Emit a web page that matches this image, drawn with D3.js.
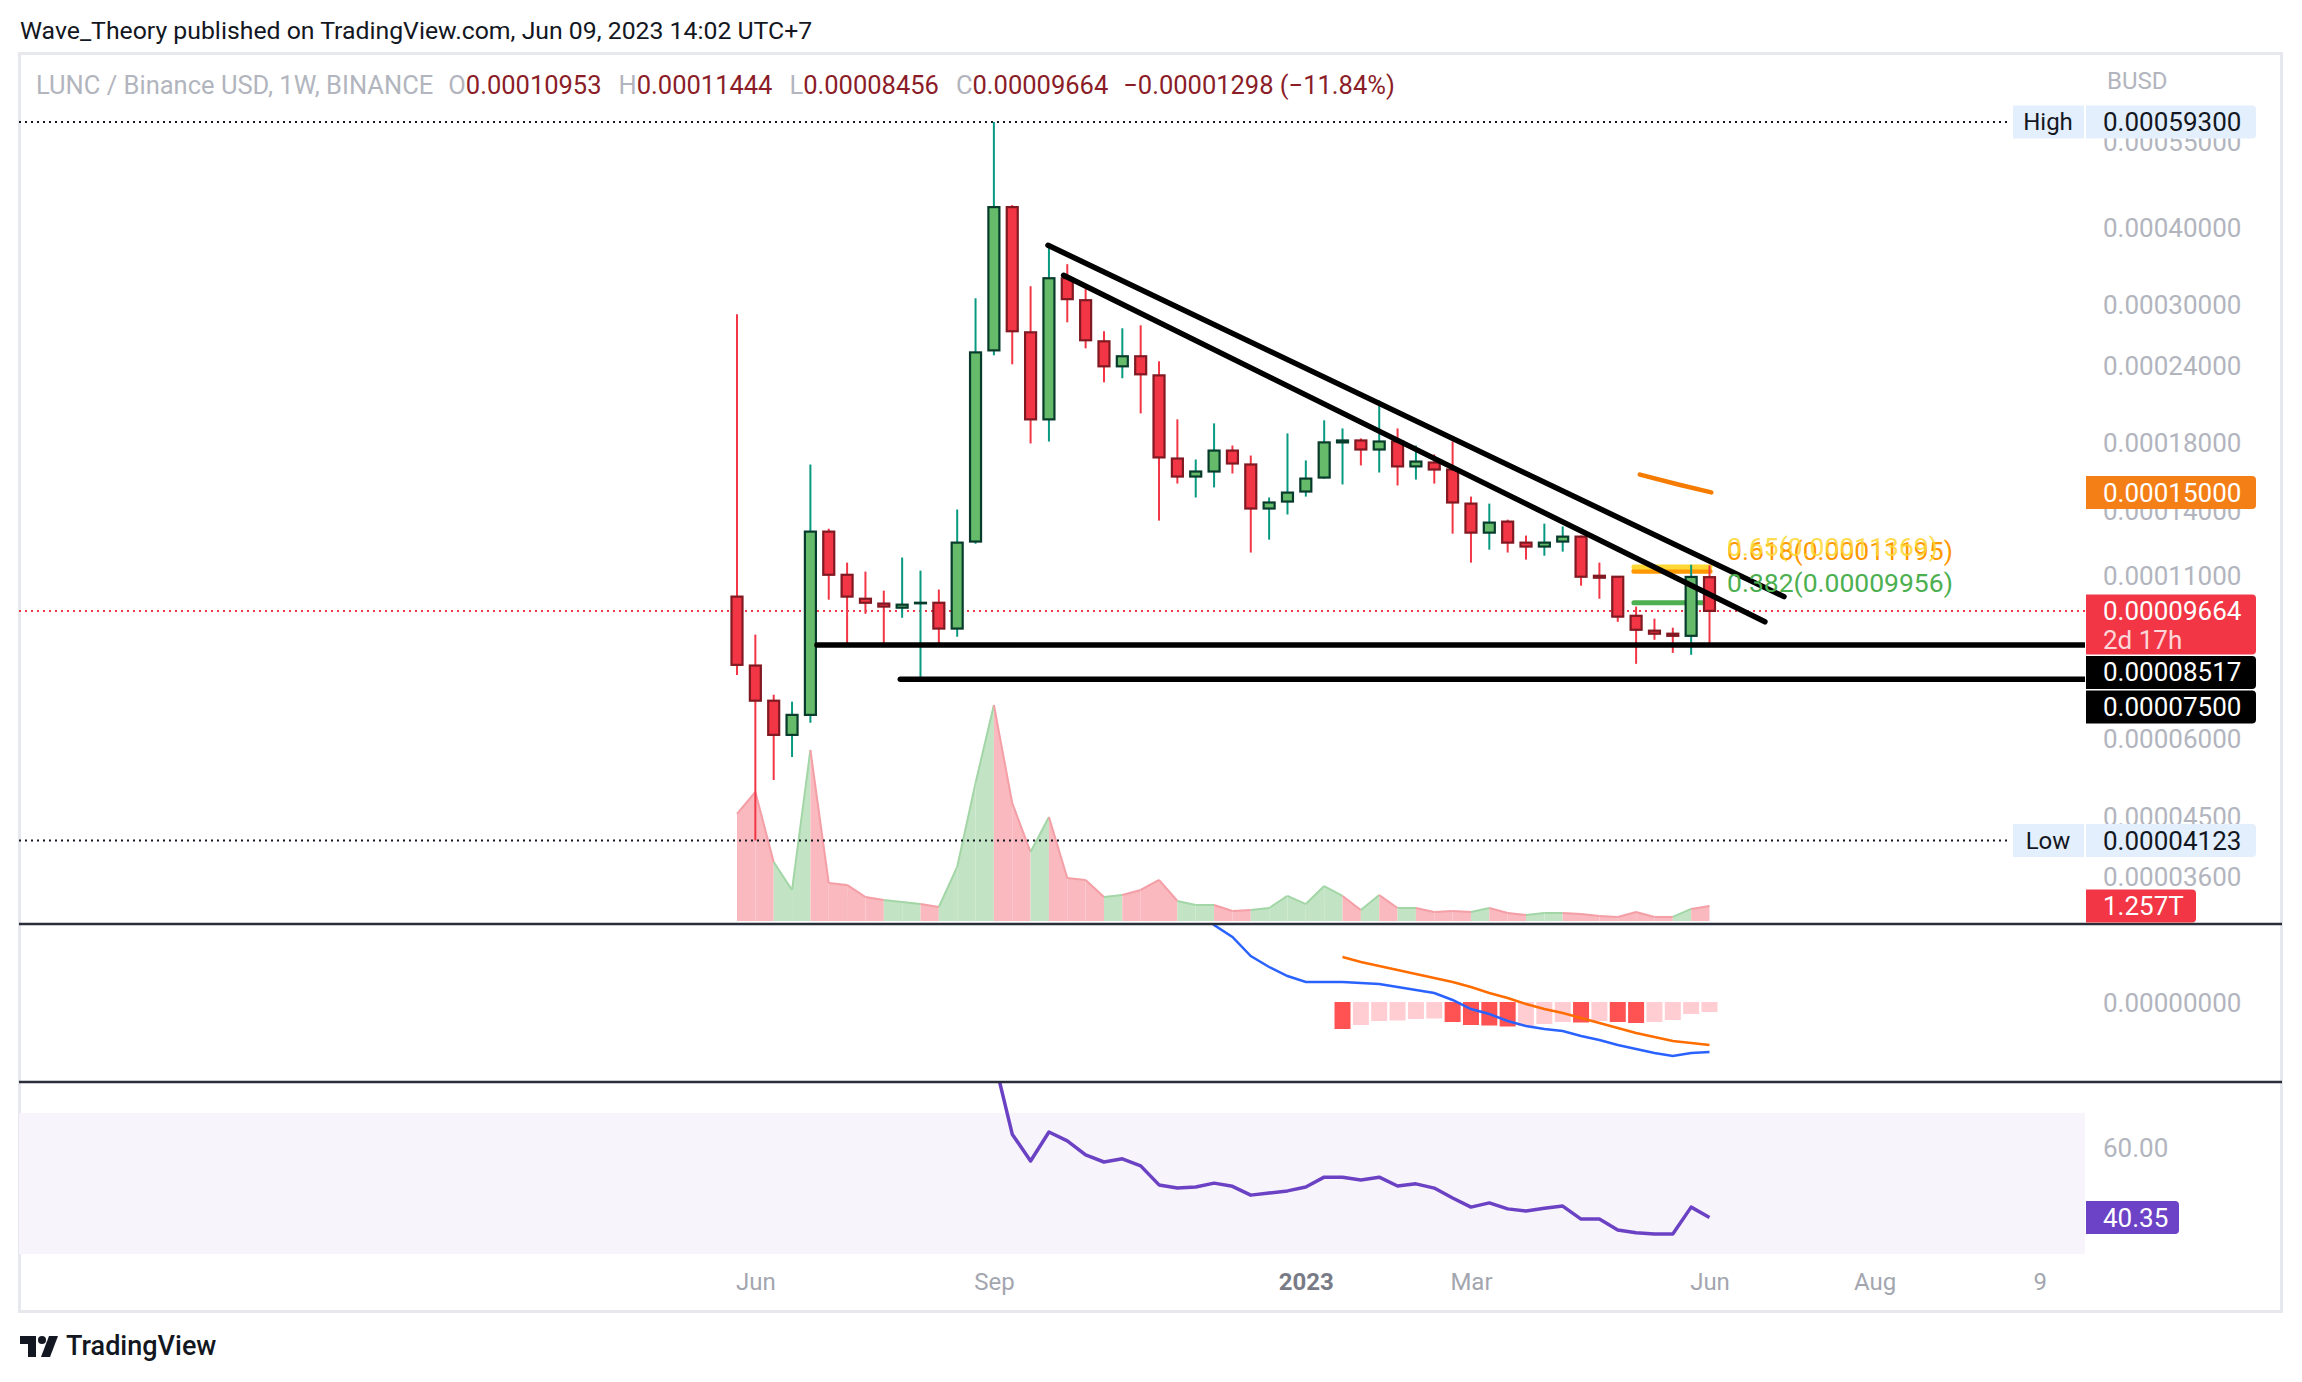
<!DOCTYPE html>
<html><head><meta charset="utf-8">
<script src="https://cdn.jsdelivr.net/npm/d3@7"></script>
<style>
html,body{margin:0;padding:0;background:#fff;}
svg{display:block;font-family:Roboto,"Noto Sans",sans-serif;}
</style></head>
<body><svg id="chart" width="2302" height="1382"></svg>
<script>
// prices below are in units of 0.0001 BUSD
const P=1e-4;
const open =[1.019,0.789,0.6925,0.610,0.657,1.297,1.105,1.011,0.993,0.978,0.994,0.996,0.905,1.250,2.541,4.324,2.717,1.967,3.321,3.061,2.628,2.395,2.486,2.316,1.701,1.591,1.621,1.752,1.664,1.413,1.450,1.505,1.585,1.806,1.819,1.759,1.812,1.652,1.676,1.633,1.439,1.292,1.346,1.245,1.227,1.250,1.273,1.101,1.097,0.949,0.898,0.888,0.881,1.0953];
const high =[2.905,0.885,0.708,0.690,1.664,1.311,1.156,1.118,1.042,1.178,1.122,1.046,1.408,3.083,5.930,4.356,3.224,3.741,3.499,3.201,2.728,2.758,2.789,2.440,1.967,1.695,1.938,1.785,1.720,1.472,1.867,1.689,1.960,1.902,1.833,2.110,1.902,1.785,1.727,1.812,1.477,1.439,1.356,1.278,1.336,1.322,1.278,1.156,1.100,0.982,0.939,0.908,1.147,1.1444];
const low  =[0.762,0.4123,0.516,0.562,0.638,1.0075,0.852,0.956,0.856,0.942,0.750,0.852,0.878,1.240,2.495,2.413,1.799,1.812,2.820,2.560,2.257,2.291,2.011,1.351,1.550,1.472,1.528,1.609,1.200,1.259,1.382,1.477,1.579,1.545,1.658,1.615,1.539,1.573,1.550,1.287,1.156,1.213,1.200,1.169,1.186,1.204,1.061,1.011,0.928,0.794,0.868,0.827,0.821,0.8456];
const close=[0.791,0.6925,0.610,0.657,1.297,1.105,1.019,0.996,0.982,0.989,0.996,0.905,1.245,2.522,4.324,2.728,1.967,3.321,3.073,2.638,2.395,2.486,2.325,1.708,1.591,1.621,1.752,1.670,1.413,1.445,1.499,1.579,1.806,1.819,1.759,1.812,1.652,1.682,1.633,1.445,1.292,1.341,1.245,1.227,1.245,1.273,1.097,1.093,0.946,0.901,0.888,0.881,1.0962,0.9664];
// weekly volume, trillions
const volume=[8.97,10.81,4.94,2.60,14.33,3.18,3.02,2.01,1.76,1.59,1.42,1.17,4.53,11.56,18.10,9.89,5.78,8.72,3.60,3.44,2.01,2.18,2.60,3.44,1.68,1.34,1.34,0.84,0.92,1.09,2.10,1.42,2.93,2.10,0.92,2.18,1.09,1.09,0.75,0.84,0.75,1.09,0.67,0.50,0.67,0.67,0.59,0.42,0.34,0.75,0.34,0.34,1.01,1.257];
// MACD, units of 1e-6
const macdStart=25;
const macdLine=[9.8,7.7,6.5,4.6,3.5,2.6,2.0,2.0,2.0,1.9,1.8,1.5,1.2,0.9,0.2,-0.7,-1.2,-1.9,-2.4,-2.7,-2.9,-3.4,-3.8,-4.3,-4.7,-5.1,-5.4,-5.1,-5.0];
const signalStart=33;
const signalLine=[4.5,4.0,3.6,3.2,2.8,2.4,2.0,1.5,0.9,0.4,-0.2,-0.7,-1.1,-1.6,-2.1,-2.6,-3.1,-3.5,-3.9,-4.1,-4.3];
const histogram=[-2.7,-2.3,-1.9,-1.85,-1.7,-1.65,-2.0,-2.3,-2.35,-2.45,-2.4,-2.2,-2.0,-2.05,-1.9,-2.0,-2.1,-2.0,-1.8,-1.2,-1.0];
const rsiStart=14;
const rsi=[85.5,64.0,56.4,64.6,62.1,58.1,56.1,57.0,55.0,49.6,48.7,49.0,50.1,49.2,46.7,47.3,47.9,49.0,51.8,51.8,51.0,51.8,49.3,49.9,48.7,45.9,43.3,44.5,42.8,42.2,43.0,43.6,39.9,39.9,36.8,36.0,35.7,35.7,43.3,40.35];

const priceTicks=[0.00055,0.0004,0.0003,0.00024,0.00018,0.00014,0.00011,0.00006,0.000045,0.000036];
const timeTicks=[[1,"Jun"],[14,"Sep"],[31,"2023"],[40,"Mar"],[53,"Jun"],[62,"Aug"],[71,"9"]];
const highest=0.000593, lowest=0.00004123;
const supports=[[4.36,0.00008517],[8.9,0.000075]];
const trendlines=[[[16.95,3.753],[57.06,1.019]],[[17.8,3.358],[56.02,0.928]]];
const fibs=[["0.618",0.00011195,"#ff9800"],["0.65",0.00011369,"#fdd835"],["0.382",0.00009956,"#4caf50"]];
const fibRange=[48.88,53.03];
const orangeDrawing=[[49.2,1.603],[51.3,1.545],[53.1,1.5]];
const orangeLevel=0.00015;

const svg=d3.select("#chart");
const x=d3.scaleLinear().domain([0,53]).range([737,1709.5]);
const y=d3.scaleLog().domain([0.000593,0.000036]).range([122,877]);
const yv=d3.scaleLinear().domain([0,18.1]).range([921,705]);
const ym=d3.scaleLinear().domain([0,-5]).range([1002,1052]);
const yr=d3.scaleLinear().domain([70,30]).range([1113,1254]);
const up=i=>close[i]>=open[i];
const RED="#f23645",GREEN="#089981";
const AX=26;

const defs=svg.append("defs");
[["cMain",54,869],["cMacd",925,156],["cRsi",1083,173]].forEach(([id,top,h])=>{
  defs.append("clipPath").attr("id",id).append("rect").attr("x",19).attr("y",top).attr("width",2066).attr("height",h);
});

// publisher line
svg.append("text").attr("x",20).attr("y",39).attr("font-size",24.8).attr("fill","#131722")
  .text("Wave_Theory published on TradingView.com, Jun 09, 2023 14:02 UTC+7");

// frame
svg.append("rect").attr("x",19.5).attr("y",53.5).attr("width",2262).attr("height",1258)
  .attr("fill","none").attr("stroke","#e6e8ee").attr("stroke-width",3);

const gMain=svg.append("g").attr("clip-path","url(#cMain)");

// volume area
const vg=gMain.append("g");
d3.range(1,volume.length).forEach(i=>{
  const c=up(i);
  vg.append("path")
    .attr("d",`M${x(i-1)},${yv(0)}L${x(i-1)},${yv(volume[i-1])}L${x(i)},${yv(volume[i])}L${x(i)},${yv(0)}Z`)
    .attr("fill",c?"#c2e4c4":"#f9b9bf");
  vg.append("line").attr("x1",x(i-1)).attr("y1",yv(volume[i-1])).attr("x2",x(i)).attr("y2",yv(volume[i]))
    .attr("stroke",c?"#a3d6a6":"#f49ea6").attr("stroke-width",2);
});

// dotted high / low / last price
const dotted=(p,col,x2)=>gMain.append("line").attr("x1",19).attr("x2",x2).attr("y1",y(p)).attr("y2",y(p))
  .attr("stroke",col).attr("stroke-width",2).attr("stroke-dasharray","2,4");
dotted(highest,"#131722",2011);
dotted(lowest,"#131722",2011);
dotted(close[53]*P,RED,2085);

// fib lines (under candles)
fibs.forEach(([lv,p,col])=>{
  gMain.append("line").attr("x1",x(fibRange[0])).attr("x2",x(fibRange[1])).attr("y1",y(p)).attr("y2",y(p))
    .attr("stroke",col).attr("stroke-width",5).attr("stroke-linecap","round");
});

// candles
const bw=11;
const cg=gMain.append("g").selectAll("g").data(d3.range(open.length)).join("g");
cg.append("line").attr("x1",i=>x(i)).attr("x2",i=>x(i))
  .attr("y1",i=>y(high[i]*P)).attr("y2",i=>y(low[i]*P))
  .attr("stroke",i=>up(i)?GREEN:RED).attr("stroke-width",2);
cg.append("rect").attr("x",i=>x(i)-bw/2).attr("width",bw)
  .attr("y",i=>y(Math.max(open[i],close[i])*P))
  .attr("height",i=>Math.max(0.5,y(Math.min(open[i],close[i])*P)-y(Math.max(open[i],close[i])*P)))
  .attr("fill",i=>up(i)?"#66bb6a":RED)
  .attr("stroke",i=>up(i)?"#073b2b":"#801922").attr("stroke-width",2.2);

// support lines
supports.forEach(([from,p])=>{
  gMain.append("line").attr("x1",x(from)).attr("x2",2090).attr("y1",y(p)).attr("y2",y(p))
    .attr("stroke","#000").attr("stroke-width",5.5).attr("stroke-linecap","round");
});
// trend lines
trendlines.forEach(t=>{
  gMain.append("line").attr("x1",x(t[0][0])).attr("y1",y(t[0][1]*P)).attr("x2",x(t[1][0])).attr("y2",y(t[1][1]*P))
    .attr("stroke","#000").attr("stroke-width",5.5).attr("stroke-linecap","round");
});
gMain.append("path").attr("d",d3.line().x(d=>x(d[0])).y(d=>y(d[1]*P)).curve(d3.curveMonotoneX)(orangeDrawing))
  .attr("fill","none").attr("stroke","#f57c00").attr("stroke-width",4.5).attr("stroke-linecap","round");

// fib labels
fibs.forEach(([lv,p,col],k)=>{
  gMain.append("text").attr("x",1727).attr("y",y(p)-11).attr("font-size",26.5).attr("fill",col)
    .attr("opacity",k==1?0.85:1).text(`${lv}(${p.toFixed(8)})`);
});

// MACD pane
const gM=svg.append("g").attr("clip-path","url(#cMacd)");
histogram.forEach((h,k)=>{
  const i=signalStart+k;
  const dark=k==0||h<histogram[k-1];
  gM.append("rect").attr("x",x(i)-8).attr("width",16).attr("y",ym(0)).attr("height",ym(h)-ym(0))
    .attr("fill",dark?"#ff5252":"#ffcdd2");
});
const ln=(start)=>d3.line().x((d,k)=>x(start+k));
gM.append("path").attr("d",ln(macdStart).y(d=>ym(d))(macdLine)).attr("fill","none").attr("stroke","#2962ff").attr("stroke-width",2.5);
gM.append("path").attr("d",ln(signalStart).y(d=>ym(d))(signalLine)).attr("fill","none").attr("stroke","#ff6d00").attr("stroke-width",2.5);

// RSI pane
const gR=svg.append("g").attr("clip-path","url(#cRsi)");
gR.append("rect").attr("x",19).attr("width",2066).attr("y",yr(70)).attr("height",yr(30)-yr(70)).attr("fill","#f7f4fc");
gR.append("path").attr("d",ln(rsiStart).y(d=>yr(d))(rsi)).attr("fill","none").attr("stroke","#6c42c4")
  .attr("stroke-width",3.5).attr("stroke-linejoin","round");

// pane separators
[924,1082].forEach(v=>svg.append("line").attr("x1",19).attr("x2",2282).attr("y1",v).attr("y2",v)
  .attr("stroke","#2a2e39").attr("stroke-width",2.5));

// legend
const parts=[["LUNC / Binance USD, 1W, BINANCE","#b2b5be",15],["O","#b2b5be",0],[open[53]*P,"#8b1d28",17],["H","#b2b5be",0],[high[53]*P,"#8b1d28",17],
  ["L","#b2b5be",0],[low[53]*P,"#8b1d28",17],["C","#b2b5be",0],[close[53]*P,"#8b1d28",15]];
const chg=(close[53]-close[52])*P, pct=(close[53]/close[52]-1)*100;
parts.push([`\u2212${Math.abs(chg).toFixed(8)} (\u2212${Math.abs(pct).toFixed(2)}%)`,"#8b1d28",0]);
let cx=36;
parts.forEach(([t,col,gap])=>{
  const s=typeof t=="number"?t.toFixed(8):t;
  const el=svg.append("text").attr("x",cx).attr("y",94).attr("font-size",25.5).attr("fill",col).text(s);
  cx+=el.node().getComputedTextLength()+gap;
});

// price axis
svg.append("text").attr("x",2107).attr("y",89).attr("font-size",24).attr("fill","#b2b5be").text("BUSD");
const ax=svg.append("g").attr("transform","translate(2103,0)")
  .call(d3.axisRight(y).tickValues(priceTicks).tickFormat(d=>d.toFixed(8)).tickSize(0).tickPadding(0));
ax.select(".domain").remove();
ax.selectAll("text").attr("font-size",AX).attr("fill","#b2b5be").attr("font-family","Roboto");
svg.append("text").attr("x",2103).attr("y",ym(0)+1).attr("dy","0.35em").attr("font-size",AX).attr("fill","#b2b5be").text((0).toFixed(8));
svg.append("text").attr("x",2103).attr("y",yr(60)).attr("dy","0.35em").attr("font-size",AX).attr("fill","#b2b5be").text((60).toFixed(2));

function box(x0,w,top,h,fill,rRight){
  const r=rRight?4:0;
  svg.append("path").attr("d",`M${x0},${top}H${x0+w-r}Q${x0+w},${top} ${x0+w},${top+r}V${top+h-r}Q${x0+w},${top+h} ${x0+w-r},${top+h}H${x0}Z`).attr("fill",fill);
}
function label(cy,txt,fill,col,w=170){
  box(2086,w,cy-16.5,33,fill,true);
  svg.append("text").attr("x",2103).attr("y",cy).attr("dy","0.35em").attr("font-size",AX).attr("fill",col).text(txt);
}
// high / low markers
[[highest,"High"],[lowest,"Low"]].forEach(([p,t])=>{
  const cy=y(p);
  box(2013,71,cy-16.5,33,"#e3effc",false);
  svg.append("text").attr("x",2048).attr("y",cy).attr("dy","0.35em").attr("text-anchor","middle").attr("font-size",24).attr("fill","#131722").text(t);
  label(cy,p.toFixed(8),"#e3effc","#131722");
});
label(y(orangeLevel),orangeLevel.toFixed(8),"#f57f17","#fff");
// last price with countdown, then stacked support labels
const lastY=y(close[53]*P);
box(2086,170,lastY-16.5,60,RED,true);
svg.append("text").attr("x",2103).attr("y",lastY).attr("dy","0.35em").attr("font-size",AX).attr("fill","#fff").text((close[53]*P).toFixed(8));
svg.append("text").attr("x",2103).attr("y",lastY+29).attr("dy","0.35em").attr("font-size",AX).attr("fill","#fff").attr("opacity",0.8).text("2d 17h");
let bottom=lastY-16.5+60;
supports.forEach(([f,p])=>{
  let cy=Math.max(y(p),bottom+18);
  label(cy,p.toFixed(8),"#000","#fff");
  bottom=cy+16.5;
});
label(yv(volume[53]),volume[53].toFixed(3)+"T",RED,"#fff",110);
label(yr(rsi[rsi.length-1]),rsi[rsi.length-1].toFixed(2),"#6c42c6","#fff",93);

// time axis
const tx=svg.append("g").attr("transform","translate(0,1273)")
  .call(d3.axisBottom(x).tickValues(timeTicks.map(d=>d[0])).tickFormat((d,k)=>timeTicks[k][1]).tickSize(0).tickPadding(0));
tx.select(".domain").remove();
tx.selectAll("text").attr("font-size",24).attr("font-family","Roboto")
  .attr("fill",(d,k)=>timeTicks[k][1]=="2023"?"#787b86":"#a3a6af")
  .attr("font-weight",(d,k)=>timeTicks[k][1]=="2023"?700:400);

// TradingView logo
const lg=svg.append("g").attr("transform","translate(20,1336)").attr("fill","#131722");
lg.append("path").attr("d","M0,0H16V21H8V8H0Z");
lg.append("circle").attr("cx",22).attr("cy",4).attr("r",4);
lg.append("path").attr("d","M29,0H38L30,21H21Z");
svg.append("text").attr("x",66).attr("y",1355).attr("font-size",27).attr("font-weight",500).attr("fill","#131722").text("TradingView");
</script>
</body></html>
